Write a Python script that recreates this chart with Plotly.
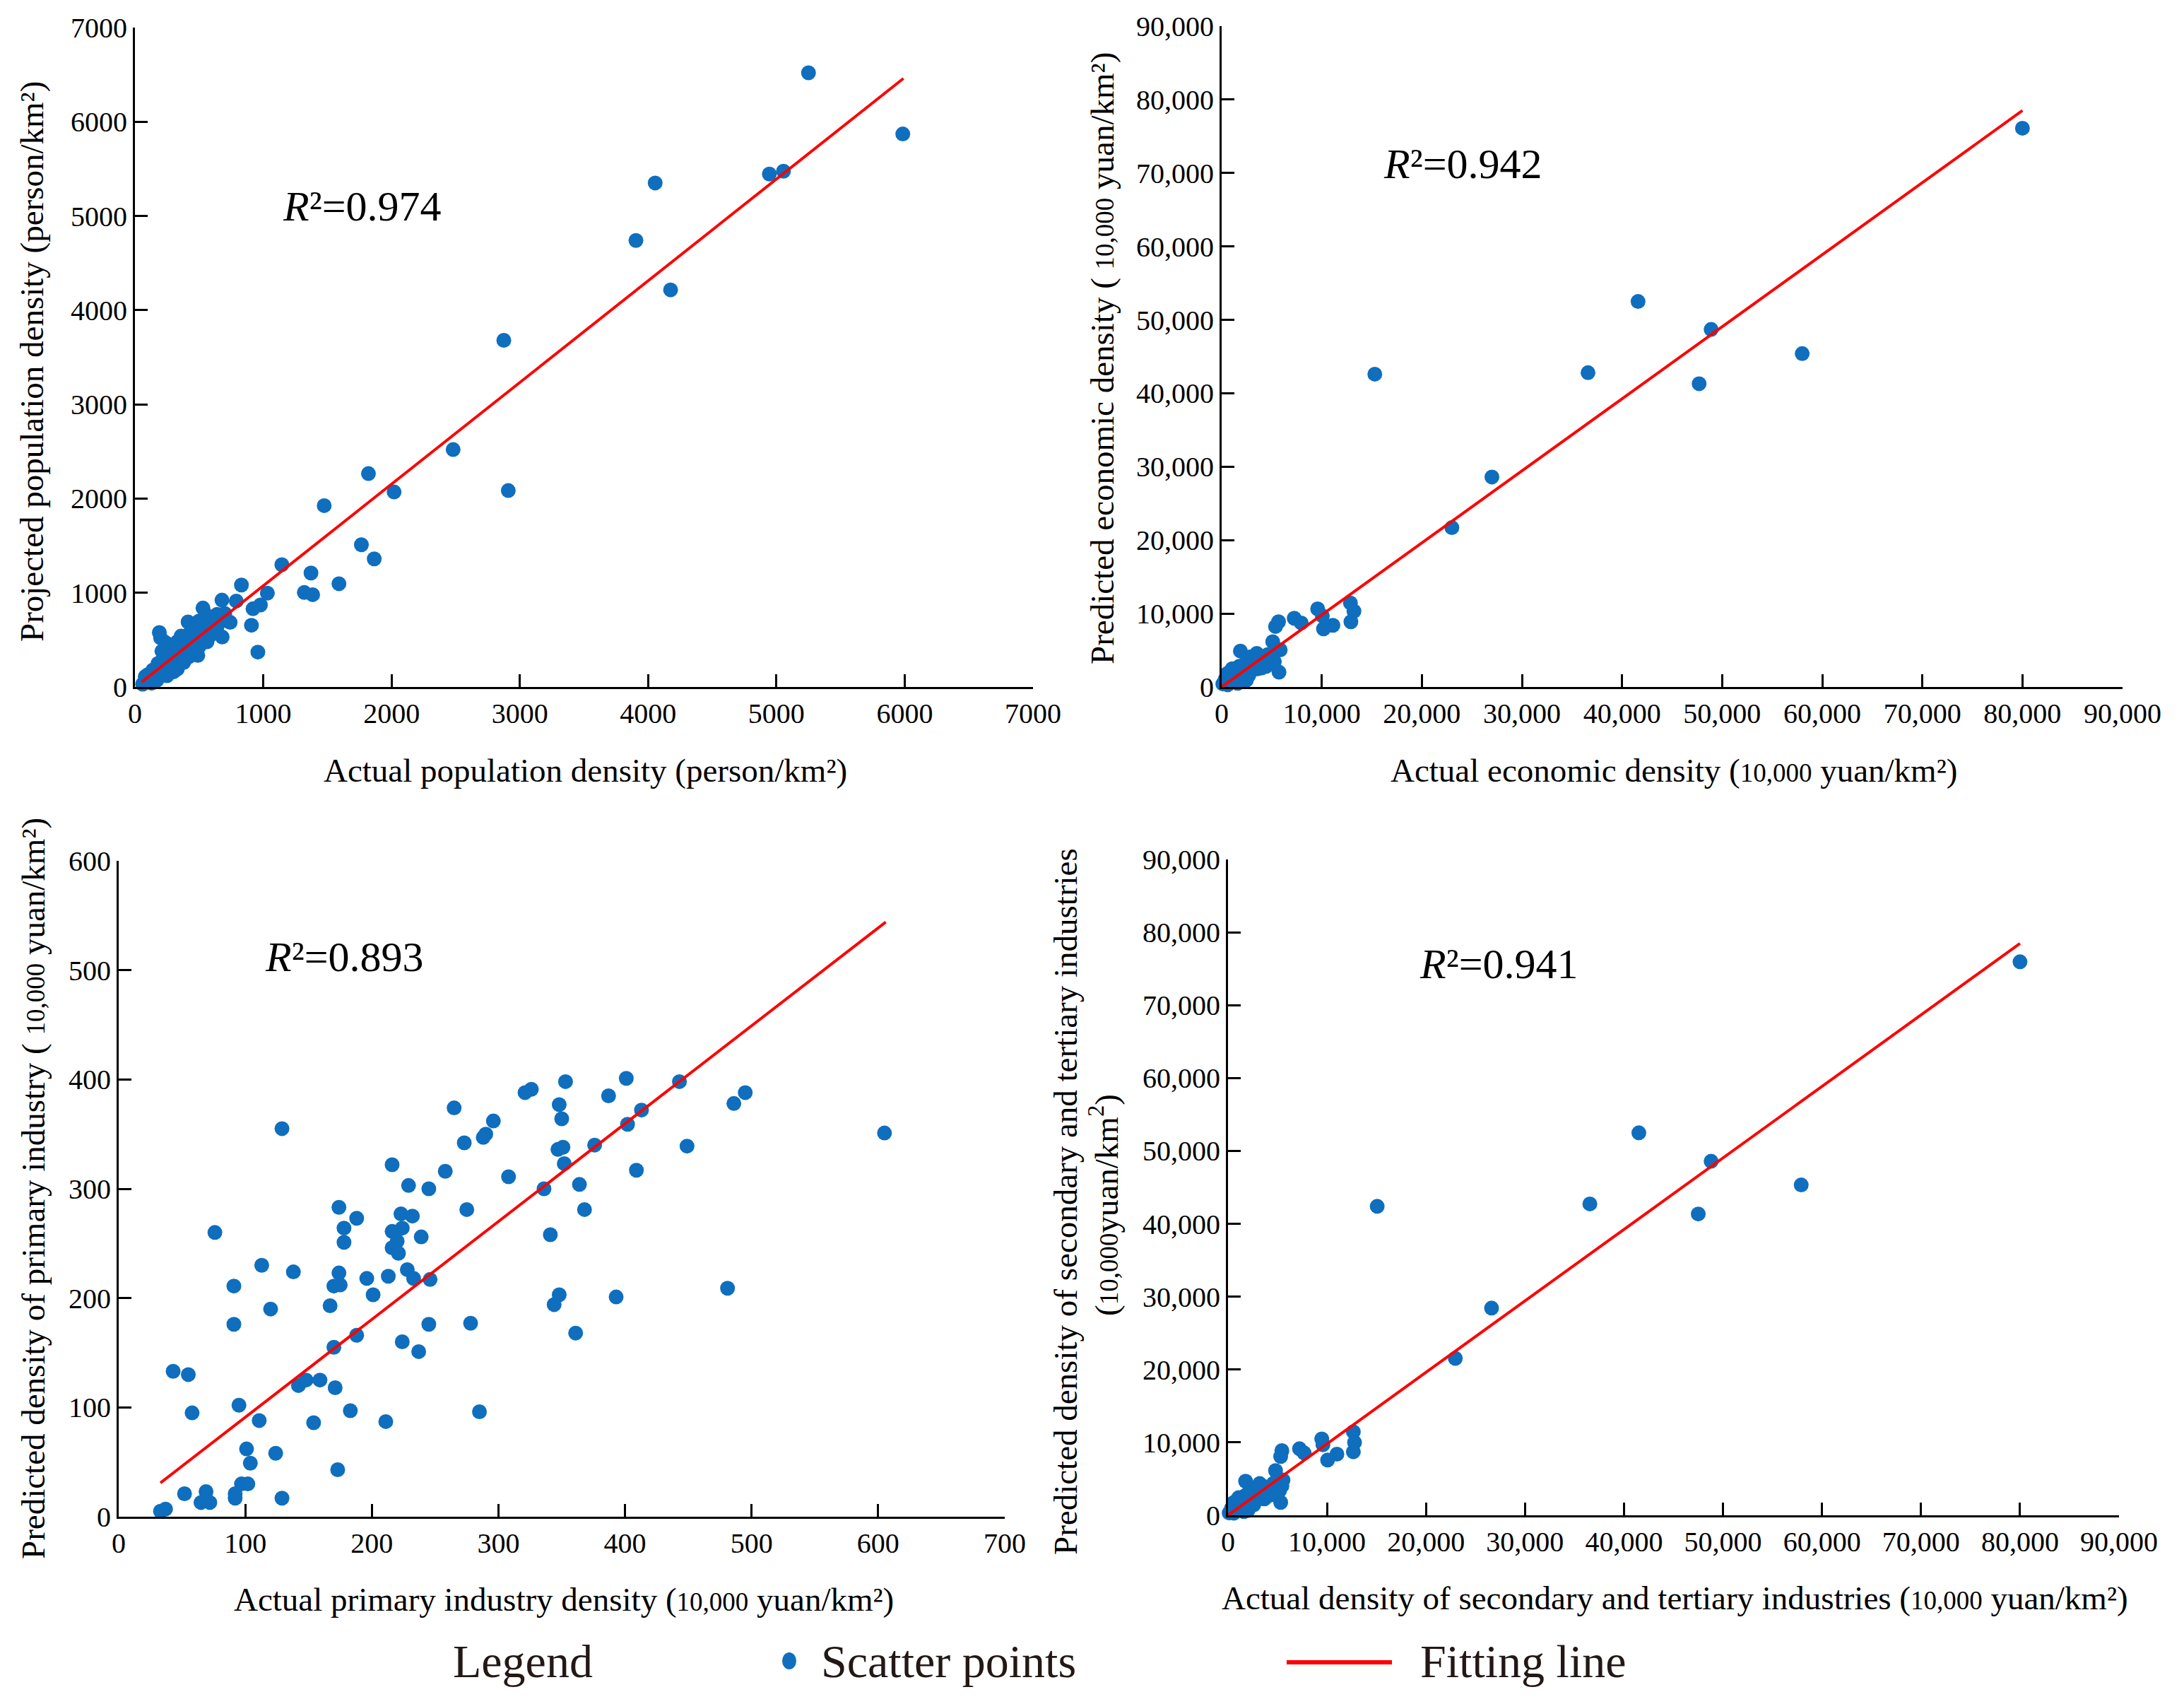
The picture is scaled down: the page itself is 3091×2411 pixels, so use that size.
import plotly.graph_objects as go

# population density (person/km2)
pop_actual = [5250, 5985, 4945, 5055, 4055, 3905, 4175, 2875, 2480, 1820, 2020, 2910, 1475, 1765,
              1865, 1145, 1372, 1590, 1320, 1385, 1032, 830, 678, 958, 908, 978, 920, 790, 530, 414,
              190, 680, 742, 562, 490,
              200, 240, 300, 330, 360, 420, 460, 500, 560, 600, 640, 700, 720, 640, 580, 520, 470,
              420, 380, 340, 300, 270, 240, 210, 180, 150, 120, 90, 60, 100, 140, 180, 220, 260,
              330, 300, 380, 420, 450, 500, 540, 600, 250, 170, 130, 80, 350, 400, 290, 210]
pop_pred = [6520, 5870, 5445, 5475, 5350, 4740, 4215, 3680, 2520, 2265, 2070, 2085, 1925, 1510,
            1360, 1298, 1210, 1096, 1003, 980, 996, 1082, 922, 370, 655, 870, 830, 912, 838, 690,
            578, 530, 686, 480, 335,
            520, 470, 420, 480, 540, 560, 620, 700, 760, 720, 770, 780, 700, 640, 620, 560, 500,
            440, 380, 330, 290, 240, 200, 160, 130, 100, 80, 60, 30, 130, 180, 250, 300, 350,
            190, 160, 260, 320, 380, 430, 500, 560, 120, 70, 40, 110, 420, 500, 350, 380]
pop_fit_x = [54, 5990]
pop_fit_y = [53, 6460]

# economic density (10,000 yuan/km2)
eco_actual = [80000, 41600, 48900, 58000, 47700, 36600, 15300, 27000, 23000,
              12865, 13216, 12912, 11111, 10175, 9591, 10058, 7251, 7953, 5684, 5380, 5099, 5848,
              5731, 1871, 3509, 2807, 4912, 5263, 4094, 3626, 2690, 1754, 1053, 585, 351, 1287,
              2456, 117, 1988, 4444, 800, 1500, 3000, 2200, 3200, 4000, 600, 1600, 2100, 4600, 3800]
eco_pred = [76100, 52500, 48700, 45400, 41300, 42800, 42600, 28600, 21700,
            11440, 10320, 8880, 8400, 7920, 10640, 9680, 9360, 8720, 8880, 8240, 6170, 5050,
            2010, 4890, 4570, 4090, 4090, 3450, 3130, 2490, 1530, 2810, 2490, 1850, 1050, 735,
            895, 415, 1850, 2810, 600, 1300, 2200, 3000, 3600, 2600, 300, 500, 1200, 4400, 3900]
eco_fit_x = [0, 80000]
eco_fit_y = [0, 78500]

# primary industry density (10,000 yuan/km2)
pri_actual = [605, 495, 486, 443, 401, 387, 413, 402, 449, 409, 376, 364, 368, 336, 341, 348, 350,
              353, 347, 351, 352, 326, 321, 296, 290, 288, 265, 273, 258, 308, 275, 229, 245, 216,
              232, 223, 224, 216, 239, 220, 216, 221, 174, 188, 178, 178, 228, 233, 246, 213, 196,
              201, 174, 175, 170, 167, 120, 138, 113, 91, 91, 76, 129, 188, 170, 224, 237, 245, 278,
              285, 361, 393, 348, 344, 481, 43, 55, 58, 95, 111, 124, 101, 104, 97, 102, 92, 92, 52,
              69, 65, 72, 129, 173, 142, 148, 159, 171, 154, 183, 211, 33, 37]
pri_pred = [351, 388, 378, 398, 401, 385, 372, 359, 339, 317, 340, 304, 281, 300, 258, 377, 364,
            398, 336, 338, 323, 391, 388, 362, 350, 347, 374, 342, 316, 311, 281, 303, 300, 322,
            275, 277, 264, 261, 256, 252, 246, 241, 283, 273, 264, 251, 226, 218, 217, 220, 218,
            203, 223, 212, 211, 193, 190, 224, 230, 211, 176, 260, 355, 166, 155, 160, 151, 176,
            177, 96, 168, 201, 203, 194, 209, 133, 130, 95, 102, 88, 58, 62, 49, 30, 30, 21, 17,
            21, 23, 13, 13, 17, 43, 120, 125, 125, 118, 86, 97, 87, 5, 7]
pri_fit_x = [33, 606]
pri_fit_y = [31, 544]

# secondary and tertiary industry density (10,000 yuan/km2)
sec_actual = [80000, 41500, 48800, 57900, 47500, 36550, 15070, 26620, 22960,
              12660, 12780, 12660, 11000, 10060, 9470, 9590, 7220, 7690, 5440, 5320, 4800, 5560,
              5320, 1775, 3195, 2840, 5207, 4852, 3669, 2604, 1775, 1065, 592, 355, 2012, 118,
              5444, 800, 1500, 3000, 2200, 3200, 4000, 600, 1600, 2100, 4600, 3800]
sec_pred = [75950, 52480, 48580, 45330, 41350, 42730, 42400, 28430, 21530,
            11450, 10000, 8710, 8390, 7580, 10480, 9680, 9130, 8550, 8870, 8070, 6130, 4840,
            1770, 4680, 4355, 3710, 3387, 2742, 2258, 1452, 2742, 2419, 1774, 968, 645, 323,
            4032, 600, 1300, 2200, 3000, 3600, 2600, 300, 500, 1200, 4400, 3900]
sec_fit_x = [0, 80000]
sec_fit_y = [0, 78470]

r2_labels = ["0.974", "0.942", "0.893", "0.941"]

W, H = 3091, 2411
OFF = 8  # page body margin
BLUE = "#0F6EBE"
RED = "#FF0000"
FONT = "Liberation Serif"
small = '<span style="font-size:37px">10,000</span>'


def px_x(p):
    return (p - OFF) / W


def px_y(p):
    return 1 - (p - OFF) / H


fig = go.Figure()

panels = [
    (pop_actual, pop_pred, pop_fit_x, pop_fit_y),
    (eco_actual, eco_pred, eco_fit_x, eco_fit_y),
    (pri_actual, pri_pred, pri_fit_x, pri_fit_y),
    (sec_actual, sec_pred, sec_fit_x, sec_fit_y),
]
for i, (xs, ys, fx, fy) in enumerate(panels):
    ax = "" if i == 0 else str(i + 1)
    fig.add_trace(go.Scatter(x=xs, y=ys, mode="markers", xaxis="x" + ax, yaxis="y" + ax,
                             marker=dict(color=BLUE, size=21), cliponaxis=False, showlegend=False))
    fig.add_trace(go.Scatter(x=fx, y=fy, mode="lines", xaxis="x" + ax, yaxis="y" + ax,
                             line=dict(color=RED, width=4), showlegend=False))


def axis(dom, rng, dtick, fmt, anchor):
    return dict(domain=dom, range=rng, dtick=dtick, tick0=0, tickformat=fmt, anchor=anchor,
                showline=True, linecolor="black", linewidth=3, mirror=False,
                ticks="inside", ticklen=18, tickwidth=3, tickcolor="black",
                showgrid=False, zeroline=False, fixedrange=True, automargin=False,
                tickfont=dict(family=FONT, size=40, color="black"))


# plot areas in pixels: left, right, top, bottom
boxes = [(191, 1462, 39, 972), (1729, 3004, 37, 972), (168, 1422, 1218, 2146), (1738, 2999, 1216, 2144)]
ranges = [([0, 7000], [0, 7000], 1000, 1000, "d"),
          ([0, 90000], [0, 90000], 10000, 10000, ",d"),
          ([0, 700], [0, 600], 100, 100, "d"),
          ([0, 90000], [0, 90000], 10000, 10000, ",d")]
layout_axes = {}
for i, ((l, r, t, b), (xr, yr, dx, dy, fmt)) in enumerate(zip(boxes, ranges)):
    ax = "" if i == 0 else str(i + 1)
    layout_axes["xaxis" + ax] = axis([px_x(l), px_x(r)], xr, dx, fmt, "y" + ax)
    layout_axes["yaxis" + ax] = axis([px_y(b), px_y(t)], yr, dy, fmt, "x" + ax)

title_font = dict(family=FONT, size=47, color="black")
ann = []
# x axis titles
ann.append(dict(text="Actual population density (person/km²)", x=px_x(828), y=px_y(1090)))
ann.append(dict(text="Actual economic density (" + small + " yuan/km²)", x=px_x(2369), y=px_y(1090)))
ann.append(dict(text="Actual primary industry density (" + small + " yuan/km²)", x=px_x(798), y=px_y(2263)))
ann.append(dict(text="Actual density of secondary and tertiary industries (" + small + " yuan/km²)",
                x=px_x(2370), y=px_y(2261)))
# y axis titles
ann.append(dict(text="Projected population density (person/km²)", x=px_x(45), y=px_y(512), textangle=-90))
ann.append(dict(text="Predicted economic density ( " + small + " yuan/km²)", x=px_x(1560), y=px_y(507),
                textangle=-90))
ann.append(dict(text="Predicted density of primary industry ( " + small + " yuan/km²)", x=px_x(47),
                y=px_y(1682), textangle=-90))
ann.append(dict(text="Predicted density of secondary and tertiary industries", x=px_x(1508), y=px_y(1700),
                textangle=-90))
ann.append(dict(text="(" + small + "yuan/km<sup>2</sup>)", x=px_x(1562), y=px_y(1705), textangle=-90))
for a in ann:
    a.update(xref="paper", yref="paper", showarrow=False, font=title_font, xanchor="center", yanchor="middle")

# R squared labels
r2_pos = [(1770, 5100), (24100, 71200), (178, 512), (27300, 75600)]
for i, (lab, (rx, ry)) in enumerate(zip(r2_labels, r2_pos)):
    ax = "" if i == 0 else str(i + 1)
    ann.append(dict(text="<i>R</i>²=" + lab, x=rx, y=ry, xref="x" + ax, yref="y" + ax, showarrow=False,
                    font=dict(family=FONT, size=60, color="black"), xanchor="center", yanchor="middle"))

# legend row
leg_font = dict(family=FONT, size=66, color="#231815")
ann.append(dict(text="Legend", x=px_x(740), y=px_y(2350), xanchor="center"))
ann.append(dict(text="Scatter points", x=px_x(1160), y=px_y(2350), xanchor="left"))
ann.append(dict(text="Fitting line", x=px_x(2008), y=px_y(2350), xanchor="left"))
for a in ann[-3:]:
    a.update(xref="paper", yref="paper", showarrow=False, font=leg_font, yanchor="middle")

shapes = [
    dict(type="circle", xref="paper", yref="paper", xsizemode="pixel", ysizemode="pixel",
         xanchor=px_x(1117), yanchor=px_y(2350), x0=-10, x1=10, y0=-12, y1=12,
         fillcolor=BLUE, line=dict(width=0)),
    dict(type="line", xref="paper", yref="paper", x0=px_x(1821), x1=px_x(1970),
         y0=px_y(2352), y1=px_y(2352), line=dict(color=RED, width=6)),
]

fig.update_layout(width=W, height=H, margin=dict(l=0, r=0, t=0, b=0, autoexpand=False),
                  paper_bgcolor="white", plot_bgcolor="white",
                  annotations=ann, shapes=shapes, showlegend=False, **layout_axes)

fig.write_html("out.html")
